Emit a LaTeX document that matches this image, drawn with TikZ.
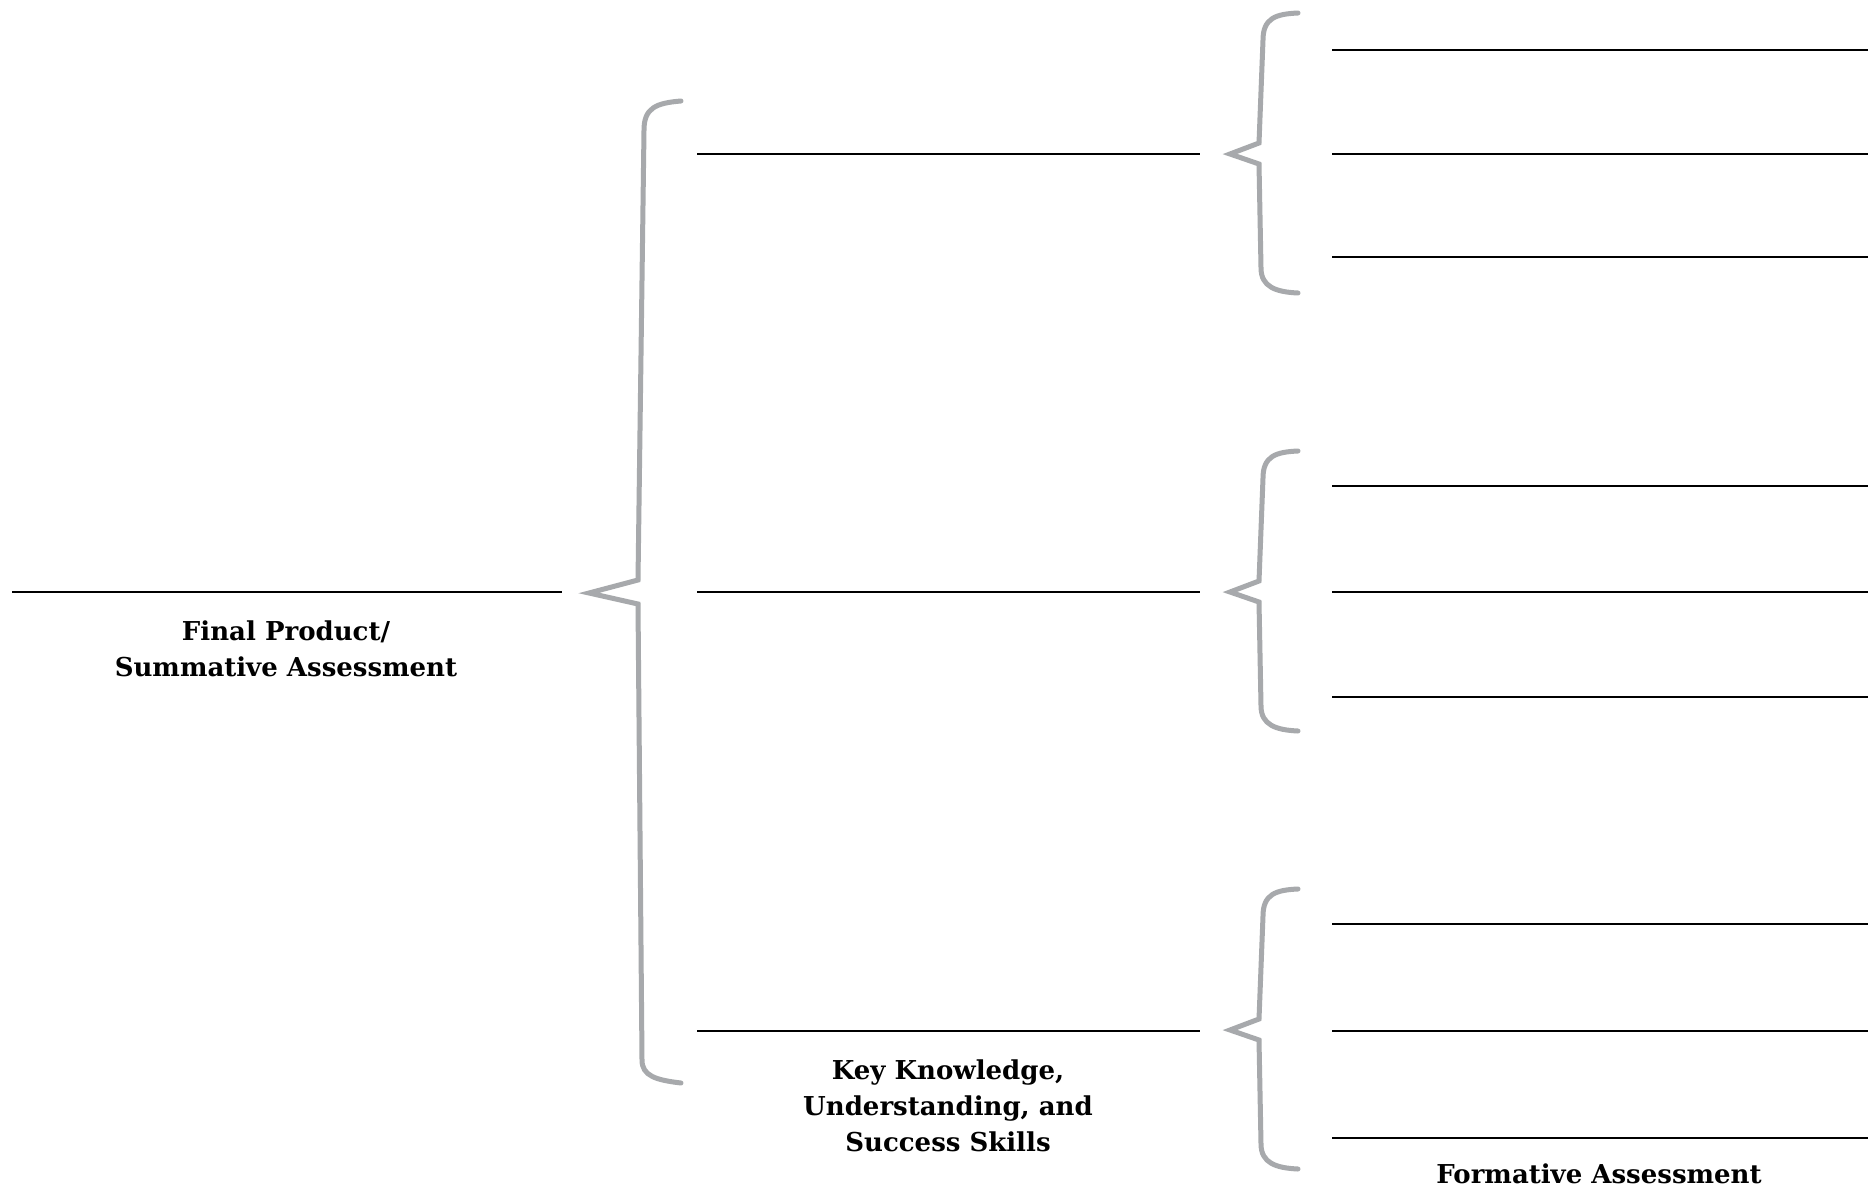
\documentclass[tikz,border=0pt]{standalone}
\usepackage{fontspec}
\setmainfont{DejaVu Serif}
\begin{document}
\begin{tikzpicture}[x=1pt,y=-1pt,
  blank/.style={line width=2pt,black},
  brace/.style={line width=5pt,draw={rgb,255:red,167;green,169;blue,172},line cap=round,line join=miter},
  label/.style={font=\bfseries\fontsize{26}{36}\selectfont,align=center,inner sep=0pt}]
\useasboundingbox[fill=white] (0,0) rectangle (1868,1188);
% big brace
\draw[brace] (681,101) .. controls (656,103) and (644,108) .. (644,130)
  -- (638,580) -- (589,593) -- (638,604) -- (642,1060)
  .. controls (642,1076) and (656,1080) .. (681,1083);
% small braces
\foreach \dy in {0,438,876}{
  \begin{scope}[yshift=-\dy pt]
  \draw[brace] (1298,13) .. controls (1276,14) and (1263,18) .. (1263,40)
    -- (1259,143) -- (1230,154) -- (1259,164) -- (1261,268)
    .. controls (1261,287) and (1276,292) .. (1298,293);
  \end{scope}
}
% left blank
\draw[blank] (12,592) -- (562,592);
% middle blanks
\foreach \y in {154,592,1031}{ \draw[blank] (697,\y) -- (1200,\y); }
% right blanks
\foreach \y in {50,154,257,486,592,697,924,1031,1138}{ \draw[blank] (1332,\y) -- (1868,\y); }
% labels
\node[label] (final) at (286,649) {Final Product/\\Summative Assessment};
\node[label] (key) at (948,1106) {Key Knowledge,\\Understanding, and\\Success Skills};
\node[label] (form) at (1599,1174) {Formative Assessment};
\end{tikzpicture}
\end{document}
